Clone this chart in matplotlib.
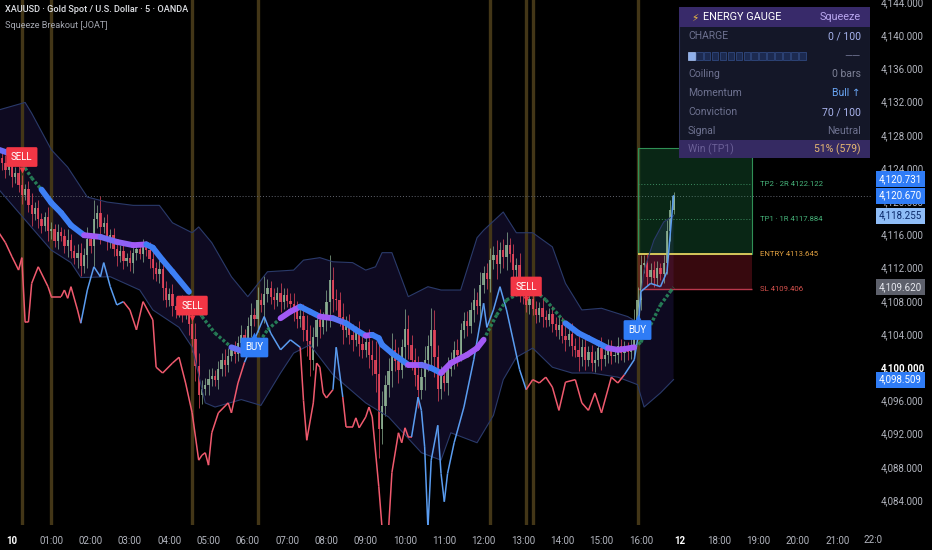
import matplotlib

matplotlib.use("Agg")
import matplotlib.pyplot as plt
import numpy as np
from matplotlib.collections import LineCollection
from matplotlib.colors import to_rgb
from matplotlib.patches import Polygon, Rectangle

plt.rcParams["font.family"] = ["Roboto", "DejaVu Sans"]

# ---------------- data (5-minute bars, x = bar number, 12 bars per hour) ----------------
first_open = 4125.2
close = [
    4124.6, 4123.8, 4124.2, 4122.9, 4123.4, 4122.0, 4120.8, 4121.5, 4119.6, 4118.4, 4119.2, 4117.8,
    4117.0, 4118.1, 4116.4, 4116.6, 4115.2, 4116.3, 4115.8, 4114.6, 4115.3, 4114.0, 4113.1, 4113.8,
    4112.2, 4113.5, 4115.4, 4114.6, 4117.8, 4118.6, 4116.9, 4117.4, 4115.2, 4115.9, 4114.3, 4113.4,
    4114.0, 4112.8, 4113.2, 4112.5, 4113.7, 4114.2, 4113.6, 4114.5, 4114.1, 4113.0, 4111.9, 4111.2,
    4111.8, 4109.5, 4108.1, 4108.8, 4107.4, 4106.9, 4107.6, 4106.5, 4107.1, 4105.2, 4103.4, 4100.2,
    4096.6, 4097.4, 4097.9, 4098.6, 4099.0, 4098.4, 4099.8, 4100.9, 4100.3, 4101.4, 4102.1, 4101.6,
    4102.9, 4103.9, 4103.2, 4105.0, 4106.3, 4105.8, 4108.1, 4107.5, 4108.8, 4109.6, 4108.4, 4108.1,
    4109.0, 4107.9, 4108.7, 4108.0, 4107.6, 4106.9, 4105.8, 4106.2, 4104.5, 4103.1, 4100.9, 4103.6,
    4105.7, 4104.8, 4105.9, 4107.8, 4110.5, 4108.2, 4108.1, 4106.0, 4104.5, 4105.3, 4103.9, 4103.3,
    4104.2, 4102.8, 4102.1, 4103.0, 4101.5, 4100.9, 4099.2, 4092.6, 4095.3, 4097.9, 4099.6, 4102.1,
    4100.8, 4099.7, 4102.4, 4104.6, 4102.7, 4100.9, 4099.1, 4097.3, 4098.8, 4100.9, 4102.6, 4104.5,
    4101.2, 4097.4, 4098.9, 4098.1, 4099.8, 4100.9, 4102.1, 4101.5, 4104.5, 4105.6, 4105.0, 4106.9,
    4108.1, 4107.4, 4109.9, 4111.3, 4110.6, 4112.9, 4113.5, 4112.4, 4114.1, 4113.3, 4114.7, 4113.6,
    4111.7, 4112.3, 4109.3, 4108.6, 4107.5, 4108.2, 4107.0, 4106.3, 4107.1, 4106.0, 4105.7, 4106.4,
    4105.2, 4104.5, 4105.1, 4103.8, 4103.3, 4104.0, 4102.6, 4102.1, 4101.2, 4102.4, 4100.9, 4101.8,
    4100.5, 4100.9, 4102.3, 4101.0, 4101.5, 4102.4, 4101.3, 4101.5, 4102.6, 4101.7, 4102.1, 4101.8,
    4102.7, 4105.6, 4108.1, 4112.3, 4112.6, 4110.9, 4111.7, 4110.8, 4111.9, 4111.2, 4112.5, 4116.4,
    4118.9, 4120.67,
]
wick = [
    0.8, 1.0, 0.6, 1.2, 0.7, 0.9, 1.1, 0.6, 0.9, 1.4, 0.7, 1.0,
    0.8, 0.6, 1.2, 0.9, 0.7, 1.0, 0.6, 0.9, 1.3, 0.8, 0.7, 1.1,
    1.2, 0.9, 1.5, 0.8, 2.4, 1.0, 2.0, 0.7, 1.1, 0.8, 0.9, 1.2,
    0.7, 1.0, 0.6, 0.9, 1.1, 0.8, 0.6, 0.9, 0.7, 1.0, 1.3, 0.8,
    1.1, 1.4, 0.9, 0.7, 1.2, 1.0, 0.8, 1.1, 0.7, 1.3, 1.6, 1.9,
    1.5, 1.0, 0.8, 1.2, 0.9, 0.7, 1.0, 0.8, 1.3, 0.9, 0.6, 1.1,
    0.9, 1.2, 0.7, 1.0, 1.4, 0.8, 1.6, 0.9, 2.2, 1.0, 0.8, 1.1,
    0.7, 1.2, 0.9, 0.8, 1.0, 1.3, 1.1, 0.9, 1.4, 1.8, 2.0, 1.2,
    1.0, 1.3, 0.8, 1.5, 3.0, 1.6, 1.2, 1.0, 1.7, 0.9, 1.1, 1.3,
    0.8, 1.4, 1.0, 0.9, 1.6, 1.8, 2.2, 3.5, 1.8, 1.2, 1.5, 2.0,
    1.3, 1.6, 1.0, 2.4, 1.7, 1.2, 1.4, 2.2, 1.1, 1.6, 1.3, 2.6,
    2.4, 1.5, 1.2, 1.0, 1.4, 0.9, 1.1, 1.3, 0.8, 1.0, 1.2, 0.9,
    1.4, 1.0, 1.6, 0.9, 1.2, 1.5, 1.1, 1.8, 1.0, 1.3, 1.6, 0.9,
    1.2, 0.8, 1.4, 1.0, 0.9, 1.1, 0.7, 1.0, 0.8, 1.2, 0.9, 0.7,
    1.0, 0.8, 1.1, 0.9, 1.4, 0.8, 1.3, 0.9, 1.6, 1.0, 1.2, 0.8,
    0.9, 1.1, 0.7, 1.3, 0.8, 1.0, 0.9, 0.7, 1.0, 0.8, 1.1, 0.9,
    0.8, 1.4, 1.6, 1.2, 0.9, 1.0, 0.8, 1.1, 0.9, 0.7, 1.0, 1.3,
    1.2, 0.4,
]

hour_labels = ["10", "01:00", "02:00", "03:00", "04:00", "05:00", "06:00", "07:00", "08:00",
               "09:00", "10:00", "11:00", "12:00", "13:00", "14:00", "15:00", "16:00", "12",
               "18:00", "19:00", "20:00", "21:00"]
bold_hours = ["10", "12"]

# squeeze band
upper_bar = [-1, 7, 9, 15, 20, 26, 32, 40, 48, 52, 58, 60, 64, 70, 75, 79, 81, 89, 92, 97, 101,
             107, 111, 114, 116, 119, 124, 130, 134, 140, 145, 147, 153, 157, 162, 168, 172, 177,
             183, 191, 194, 196, 199, 202, 205]
upper_val = [4131.0, 4131.9, 4130.6, 4126.2, 4124.1, 4120.5, 4119.9, 4119.5, 4119.5, 4117.4,
             4116.2, 4116.9, 4115.0, 4110.9, 4108.5, 4110.5, 4111.5, 4111.7, 4112.9, 4113.2,
             4112.7, 4112.6, 4111.7, 4112.1, 4113.8, 4113.8, 4108.5, 4109.7, 4109.3, 4109.3,
             4115.6, 4116.5, 4118.7, 4116.2, 4116.2, 4114.5, 4110.1, 4106.9, 4107.1, 4106.1,
             4105.4, 4111.7, 4115.3, 4117.5, 4118.255]
lower_bar = [-1, 15, 21, 24, 33, 42, 46, 54, 58, 62, 65, 73, 79, 85, 89, 94, 101, 111, 118, 128,
             134, 137, 145, 150, 153, 157, 162, 168, 174, 180, 188, 194, 196, 201, 205]
lower_val = [4121.4, 4114.1, 4112.6, 4110.8, 4110.9, 4109.3, 4106.9, 4104.8, 4102.4, 4095.7,
             4095.2, 4096.1, 4095.4, 4099.3, 4101.7, 4102.7, 4099.1, 4095.7, 4094.0, 4089.7,
             4088.8, 4092.1, 4090.9, 4094.2, 4098.5, 4101.2, 4102.3, 4100.0, 4099.3, 4099.3,
             4098.8, 4097.9, 4095.2, 4096.9, 4098.509]

# basis line; inside trail_spans it is the trailing stop (crosses)
basis_bar = [-1, 2, 5, 7, 9, 12, 15, 18, 21, 25, 30, 35, 40, 44, 46, 49, 52, 57, 61, 65, 70, 75,
             77, 81, 85, 88, 91, 94, 97, 101, 105, 108, 111, 113, 115, 116, 119, 124, 128, 131,
             134, 137, 142, 145, 147, 151, 154, 159, 163, 166, 169, 172, 176, 179, 182, 185, 188,
             190, 193, 195, 198, 201, 204, 205]
basis_val = [4126.2, 4125.8, 4125.4, 4124.0, 4122.8, 4121.4, 4119.8, 4118.6, 4117.1, 4115.9,
             4115.7, 4115.1, 4114.7, 4114.8, 4114.4, 4112.9, 4111.5, 4109.1, 4106.1, 4104.1,
             4102.4, 4101.7, 4102.1, 4104.5, 4105.9, 4106.7, 4107.3, 4106.7, 4106.1, 4105.9,
             4105.3, 4104.5, 4103.8, 4103.9, 4103.5, 4102.7, 4101.7, 4100.3, 4100.3, 4099.9,
             4099.3, 4100.5, 4101.5, 4102.3, 4103.3, 4106.3, 4108.1, 4109.1, 4109.1, 4108.1,
             4106.7, 4105.3, 4104.1, 4103.5, 4102.9, 4102.3, 4102.1, 4102.2, 4102.4, 4103.0,
             4105.1, 4107.5, 4109.1, 4109.62]
trail_spans = [(5, 12), (57, 70), (77, 85), (147, 172), (193, 205)]

# flow line; colour flips (red <-> blue) at these bars, starting red
flow_bar = [-1, 1, 3, 5, 6, 7, 8, 9, 11, 14, 15, 18, 19, 20, 21, 23, 24, 26, 28, 30, 31, 33, 35,
            37, 39, 41, 43, 46, 47, 49, 52, 54, 56, 58, 60, 61, 62, 63, 64, 66, 69, 70, 72, 74,
            77, 80, 82, 85, 88, 91, 92, 93, 95, 96, 97, 98, 99, 101, 102, 104, 105, 107, 108,
            109, 111, 112, 113, 115, 116, 118, 119, 121, 122, 123, 124, 125, 127, 128, 129, 130,
            131, 133, 134, 135, 136, 138, 141, 144, 147, 148, 150, 152, 154, 158, 160, 162, 164,
            166, 168, 170, 172, 175, 177, 179, 181, 183, 186, 188, 190, 193, 194, 195, 198, 201,
            203, 205]
flow_val = [4116.2, 4115.0, 4113.3, 4111.7, 4113.2, 4105.4, 4105.4, 4110.1, 4112.1, 4109.7,
            4108.5, 4108.5, 4109.3, 4108.3, 4109.7, 4106.9, 4105.3, 4109.3, 4112.1, 4110.9,
            4112.6, 4109.7, 4107.5, 4107.9, 4106.9, 4104.5, 4107.9, 4105.7, 4100.0, 4099.3,
            4100.5, 4101.2, 4098.1, 4094.5, 4088.8, 4089.4, 4089.7, 4088.2, 4092.1, 4094.5,
            4095.7, 4094.5, 4098.1, 4100.6, 4103.3, 4106.1, 4104.1, 4102.1, 4103.3, 4102.4,
            4096.0, 4091.2, 4095.7, 4100.5, 4100.0, 4096.9, 4096.3, 4097.3, 4102.4, 4096.4,
            4092.8, 4092.8, 4093.9, 4092.7, 4094.0, 4095.2, 4094.0, 4085.6, 4080.6, 4080.6,
            4087.3, 4092.1, 4090.9, 4092.7, 4091.6, 4091.6, 4096.4, 4094.8, 4090.4, 4080.6,
            4088.8, 4093.0, 4087.2, 4083.8, 4087.2, 4090.9, 4095.2, 4100.9, 4107.7, 4104.8,
            4106.9, 4109.7, 4106.9, 4099.7, 4097.3, 4098.5, 4098.1, 4098.8, 4097.6, 4094.8,
            4098.2, 4098.5, 4095.7, 4094.8, 4096.9, 4094.5, 4098.8, 4098.1, 4099.1, 4100.9,
            4103.3, 4109.1, 4110.1, 4109.7, 4111.5, 4120.731]
flow_flips = [24, 37, 74, 91, 101, 104, 125, 160, 190]

squeeze_bars = [6, 15, 58, 78, 149, 160, 162, 194]
sell_bar = [6, 58, 160]
sell_price = [4123.8, 4105.9, 4108.2]
buy_bar = [77, 194]
buy_price = [4103.9, 4106.0]

trade_start, trade_end = 194, 229
entry, stop = 4113.645, 4109.406
tp1, tp2, tp3 = 4117.884, 4122.122, 4126.361

tag_price = [4120.731, 4120.670, 4118.255, 4109.620, 4098.509]
tag_face = ["#2f7cf6", "#2f7cf6", "#8fbdf7", "#5d606b", "#2f7cf6"]
tag_ink = ["white", "white", "#0b2a6b", "#e6e8ee", "white"]
tag_shift = [11.5, 0, 0, 0, 0]

gauge_rows = ["CHARGE", "", "Coiling", "Momentum", "Conviction", "Signal", "Win (TP1)"]
gauge_vals = ["0 / 100", "——", "0 bars", "Bull ↑", "70 / 100", "Neutral", "51% (579)"]
gauge_ink = ["#a6b3ee", "#6e7290", "#7d8196", "#6aa6f5", "#aab4ee", "#6e7290", "#e6b872"]
charge_cells, charge_filled = 15, 1

# ---------------- figure ----------------
W, H = 932, 550
fig = plt.figure(figsize=(W / 100, H / 100), dpi=100, facecolor="black")
ax = fig.add_axes([0, 1 - 525 / H, 872 / W, 525 / H])
ax.set_facecolor("black")
for s in ax.spines.values():
    s.set_visible(False)
ax.set_xlim(-0.67, 265.6)
ax.set_ylim(4080.99, 4144.24)

# band fill + lines
poly = list(zip(upper_bar, upper_val)) + list(zip(lower_bar[::-1], lower_val[::-1]))
ax.add_patch(Polygon(poly, closed=True, fc="#3a2a80", alpha=0.26, ec="none", zorder=0.5))
ax.plot(upper_bar, upper_val, color="#2a3a6a", lw=0.8, zorder=2.5)
ax.plot(lower_bar, lower_val, color="#2a3a6a", lw=0.8, zorder=2.5)

for b in squeeze_bars:
    ax.axvline(b, color="#433617", lw=2.4, zorder=1)

ax.axhline(close[-1], color="#62656f", lw=0.7, ls=(0, (1, 2)), zorder=1.5)

# trade box (under candles)
tw = trade_end - trade_start
ax.add_patch(Rectangle((trade_start, entry), tw, tp3 - entry, fc=(0.13, 0.55, 0.3, 0.28),
                       ec="#2f8f55", lw=0.8, zorder=1.6))
ax.add_patch(Rectangle((trade_start, stop), tw, entry - stop, fc=(0.62, 0.1, 0.16, 0.35),
                       ec="none", zorder=1.6))
ax.hlines([tp1, tp2], trade_start, trade_end, colors="#3c8c60", lw=0.7, linestyles=(0, (1, 2)), zorder=1.7)
ax.hlines(entry, trade_start, trade_end, colors="#d6c65a", lw=1.4, zorder=1.7)
ax.hlines(stop, trade_start, trade_end, colors="#b8384c", lw=1.0, zorder=1.7)
lab_x = trade_end + 2.5
ax.text(lab_x, tp2, f"TP2 · 2R {tp2:.3f}", color="#46b37a", fontsize=5.6, va="center")
ax.text(lab_x, tp1, f"TP1 · 1R {tp1:.3f}", color="#46b37a", fontsize=5.6, va="center")
ax.text(lab_x, entry, f"ENTRY {entry:.3f}", color="#e0a040", fontsize=5.6, va="center")
ax.text(lab_x, stop, f"SL {stop:.3f}", color="#d9534f", fontsize=5.6, va="center")

# candles
c = np.array(close)
o = np.concatenate([[first_open], c[:-1]])
w = np.array(wick)
x = np.arange(len(c))
up = c >= o
cols = np.where(up, "#93b898", "#f2495f")
ax.vlines(x, np.minimum(o, c) - w, np.maximum(o, c) + w, colors=cols, lw=0.6, alpha=0.8, zorder=2)
h = np.where(np.abs(c - o) < 0.08, 0.08, c - o)
ax.bar(x, h, bottom=o, width=0.7, color=cols, alpha=0.82, zorder=2.1)

# flow line
fb, fv = np.array(flow_bar), np.array(flow_val)
segs, scol = [], []
for k in range(len(fb) - 1):
    segs.append([(fb[k], fv[k]), (fb[k + 1], fv[k + 1])])
    n = sum(1 for f in flow_flips if f <= fb[k])
    scol.append("#f05a6e" if n % 2 == 0 else "#5a9cf0")
ax.add_collection(LineCollection(segs, colors=scol, lw=1.1, zorder=3))

# basis (thick, blue->purple by slope) and trailing stop (green crosses)
blue, purple = np.array(to_rgb("#3d7ff5")), np.array(to_rgb("#a259f5"))
bsegs, bcols = [], []
for k in range(len(basis_bar) - 1):
    b0, b1 = basis_bar[k], basis_bar[k + 1]
    seg = [(b0, basis_val[k]), (b1, basis_val[k + 1])]
    if any(a <= b0 < e for a, e in trail_spans):
        ax.plot(*zip(*seg), color="#2a8f5f", lw=2.4, ls=(0, (0.9, 0.6)), alpha=0.85, zorder=4)
    else:
        slope = (basis_val[k + 1] - basis_val[k]) / (b1 - b0)
        t = np.clip((slope + 0.2) / 0.15, 0, 1)
        bsegs.append(seg)
        bcols.append(tuple(blue * (1 - t) + purple * t))
ax.add_collection(LineCollection(bsegs, colors=bcols, lw=4.2, capstyle="round", zorder=4.2))

# signals
for b, p in zip(sell_bar, sell_price):
    ax.plot(b, p, marker="v", ms=5, color="#f23645", mec="none", zorder=8)
    ax.annotate("SELL", xy=(b, p), xytext=(0, 5.5), textcoords="offset points", ha="center",
                va="bottom", fontsize=7, color="white", zorder=9,
                bbox=dict(boxstyle="round,pad=0.5,rounding_size=0.15", fc="#f23645", ec="none"))
for b, p in zip(buy_bar, buy_price):
    ax.plot(b, p, marker="^", ms=5, color="#2f7cf6", mec="none", zorder=8)
    ax.annotate("BUY", xy=(b, p), xytext=(0, -5.5), textcoords="offset points", ha="center",
                va="top", fontsize=7, color="white", zorder=9,
                bbox=dict(boxstyle="round,pad=0.5,rounding_size=0.15", fc="#2f7cf6", ec="none"))

# axes ticks
ax.set_xticks([12 * i + 3 for i in range(len(hour_labels))])
ax.set_xticklabels(hour_labels)
yt = list(range(4084, 4145, 4))
ax.set_yticks(yt)
ax.set_yticklabels([f"{v:,.3f}" for v in yt])
ax.yaxis.tick_right()
ax.tick_params(axis="both", length=0, labelsize=7, labelcolor="#b2b5be")
ax.tick_params(axis="x", pad=8)
ax.tick_params(axis="y", pad=6.5)
for lbl in ax.get_xticklabels():
    if lbl.get_text() in bold_hours:
        lbl.set_color("white")
        lbl.set_fontweight("bold")
for lbl, v in zip(ax.get_yticklabels(), yt):
    if v == 4100:
        lbl.set_color("white")
        lbl.set_fontweight("bold")
fig.text(863 / W, 1 - 540 / H, "22:0", color="#b2b5be", fontsize=7, va="center")

for p, fc, ink, dy in zip(tag_price, tag_face, tag_ink, tag_shift):
    ax.annotate(f"{p:,.3f}", xy=(1.0, p), xycoords=ax.get_yaxis_transform(), xytext=(5, dy),
                textcoords="offset points", ha="left", va="center", fontsize=7, color=ink,
                annotation_clip=False, zorder=10,
                bbox=dict(boxstyle="square,pad=0.3", fc=fc, ec="none"))

# header
fig.text(5 / W, 1 - 9 / H, "XAUUSD · Gold Spot / U.S. Dollar · 5 · OANDA", color="#dfe1e6",
         fontsize=6.6, fontweight="medium", va="center")
fig.text(5 / W, 1 - 25 / H, "Squeeze Breakout [JOAT]", color="#a3a6af", fontsize=6.6, va="center")

# energy gauge table
tab = fig.add_axes([679 / W, 1 - 158 / H, 191 / W, 151 / H])
tab.set_xlim(0, 191)
tab.set_ylim(151, 0)
tab.axis("off")
tab.add_patch(Rectangle((0, 0), 191, 151, fc="#141728", ec="#2e3258", lw=0.8))
tab.add_patch(Rectangle((0, 0), 191, 20, fc="#382a6a", ec="none"))
tab.add_patch(Rectangle((0, 133), 191, 18, fc="#352a62", ec="none"))
tab.text(12, 10.5, "⚡", color="#f5c242", fontsize=7.5, va="center", ha="left")
tab.text(24, 10.5, "ENERGY GAUGE", color="white", fontsize=7.8, va="center")
tab.text(182, 10.5, "Squeeze", color="#b9a7ef", fontsize=7.8, va="center", ha="right")
row_y = [29, 49, 67, 86, 105, 123.5, 142]
for lab, val, ink, yy in zip(gauge_rows, gauge_vals, gauge_ink, row_y):
    lab_ink = "#6a5f96" if lab.startswith("Win") else "#6e7290"
    if lab:
        tab.text(9, yy, lab, color=lab_ink, fontsize=7.5, va="center")
    tab.text(182, yy, val, color=ink, fontsize=7.5, va="center", ha="right")
for k in range(charge_cells):
    filled = k < charge_filled
    tab.add_patch(Rectangle((9 + k * 7.93, 44.5), 6.6, 8.5,
                            fc="#8fb0ec" if filled else "#1c2a50",
                            ec="#a9c4f5" if filled else "#34508c", lw=0.5))

fig.savefig("out.png", dpi=100, facecolor="black")
